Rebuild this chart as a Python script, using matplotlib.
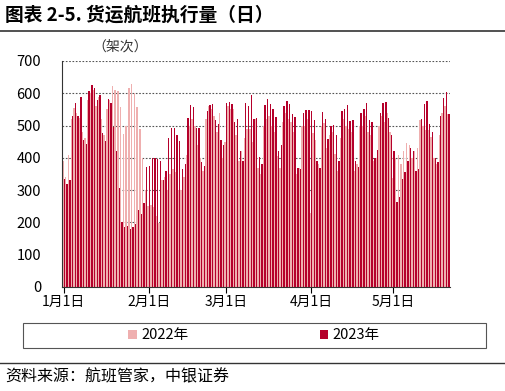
import numpy as np
import pandas as pd
import matplotlib
matplotlib.use("Agg")
import matplotlib.pyplot as plt
from matplotlib.patches import Rectangle, Patch
from matplotlib.lines import Line2D

plt.rcParams['font.family'] = ['Noto Sans CJK SC', 'DejaVu Sans']

title = "图表 2-5. 货运航班执行量（日）"
unit_label = "（架次）"
source = "资料来源：航班管家，中银证券"
series_names = ["2022年", "2023年"]
start_date = "2023-01-01"
n_days = 141

v2023 = [335, 320, 330, 530, 570, 531, 590, 456, 443, 606,
         627, 615, 580, 595, 476, 453, 582, 570, 495, 420,
         307, 200, 185, 188, 180, 185, 196, 239, 225, 261,
         371, 375, 400, 400, 395, 390, 330, 360, 462, 494,
         491, 472, 453, 366, 381, 525, 563, 556, 491, 491,
         388, 376, 546, 563, 566, 517, 505, 455, 440, 570,
         574, 567, 510, 520, 420, 390, 570, 560, 595, 520,
         525, 402, 381, 565, 582, 567, 551, 528, 420, 440,
         560, 577, 567, 536, 528, 369, 366, 539, 549, 549,
         545, 517, 390, 369, 541, 520, 459, 499, 503, 470,
         390, 546, 550, 565, 513, 517, 390, 371, 539, 551,
         570, 517, 510, 400, 423, 539, 570, 574, 523, 470,
         420, 263, 280, 335, 355, 390, 430, 420, 360, 366,
         520, 567, 577, 505, 480, 400, 388, 530, 584, 604,
         535]

v2022 = [390, 340, 410, 520, 555, 540, 525, 480, 460, 580,
         600, 610, 560, 590, 520, 470, 550, 580, 623, 610,
         607, 557, 474, 500, 616, 629, 600, 557, 490, 400,
         300, 250, 255, 247, 220, 198, 330, 340, 300, 350,
         365, 355, 300, 300, 340, 410, 500, 520, 500, 440,
         400, 360, 520, 560, 550, 530, 480, 540, 400, 450,
         560, 550, 550, 470, 390, 420, 460, 490, 490, 450,
         520, 370, 350, 500, 520, 530, 500, 480, 405, 370,
         510, 540, 520, 510, 480, 350, 370, 500, 500, 520,
         230, 476, 456, 380, 500, 509, 430, 470, 480, 412,
         360, 460, 520, 500, 490, 480, 360, 380, 500, 500,
         530, 480, 470, 390, 400, 500, 530, 510, 540, 480,
         337, 400, 410, 380, 420, 446, 440, 400, 420, 430,
         518, 500, 487, 487, 466, 399, 380, 470, 540, 560,
         535]

yticks = [0, 100, 200, 300, 400, 500, 600, 700]

c2022 = '#EFAFAF'
c2023 = '#B5002B'

dates = pd.date_range(start_date, periods=n_days)
x = np.arange(n_days)
tick_pos = [i for i, d in enumerate(dates) if d.day == 1]
tick_lab = [f"{d.month}月1日" for d in dates if d.day == 1]

W, H = 505, 391
fig = plt.figure(figsize=(W / 100, H / 100), dpi=100)
ax = fig.add_axes([62 / W, 1 - 287 / H, (450 - 62) / W, (287 - 61) / H])

bw = 0.5
ax.bar(x - bw / 2, v2022, width=bw, color=c2022, linewidth=0, zorder=2)
ax.bar(x + bw / 2, v2023, width=bw, color=c2023, linewidth=0, zorder=3)

ax.set_xlim(-0.6, n_days - 0.4)
ax.set_ylim(0, 700)
ax.set_yticks(yticks)
ax.set_yticklabels([str(t) for t in yticks], fontsize=10.5)
ax.tick_params(axis='y', length=0, pad=15)
ax.set_xticks(tick_pos)
ax.set_xticklabels(tick_lab, fontsize=10)
ax.tick_params(axis='x', length=4, width=0.8, direction='out', pad=2)

ax.grid(axis='y', linestyle=(0, (1.5, 1.5)), color='#555555', linewidth=0.8, zorder=1)
ax.set_axisbelow(True)
for s in ['top', 'right']:
    ax.spines[s].set_visible(False)
ax.spines['left'].set_color('#333333')
ax.spines['bottom'].set_color('#333333')
ax.spines['left'].set_linewidth(0.8)
ax.spines['bottom'].set_linewidth(0.8)

# title and unit
fig.text(5 / W, 1 - 15 / H, title, fontsize=13.5, fontweight='bold', va='center', ha='left')
fig.add_artist(Line2D([0, 1], [1 - 31 / H, 1 - 31 / H], color='#333333', linewidth=1.2))
fig.text(92 / W, 1 - 47 / H, unit_label, fontsize=10, va='center', ha='left', color='#333333')

# legend box
fig.add_artist(Rectangle((23 / W, 1 - 348 / H), 463 / W, 25 / H, transform=fig.transFigure,
                         fill=False, edgecolor='#555555', linewidth=0.8))
handles = [Patch(facecolor=c2022, edgecolor='none'), Patch(facecolor=c2023, edgecolor='none')]
fig.legend(handles, series_names, loc='center', bbox_to_anchor=(254 / W, 1 - 335.5 / H),
           ncol=2, frameon=False, fontsize=10.5, handlelength=0.6, handleheight=0.6,
           handletextpad=0.3, columnspacing=9.0)

fig.add_artist(Line2D([0, 1], [1 - 363 / H, 1 - 363 / H], color='#333333', linewidth=1.0))
fig.text(5 / W, 1 - 377 / H, source, fontsize=11.5, style='italic', va='center', ha='left')

fig.savefig("out.png", dpi=100)
